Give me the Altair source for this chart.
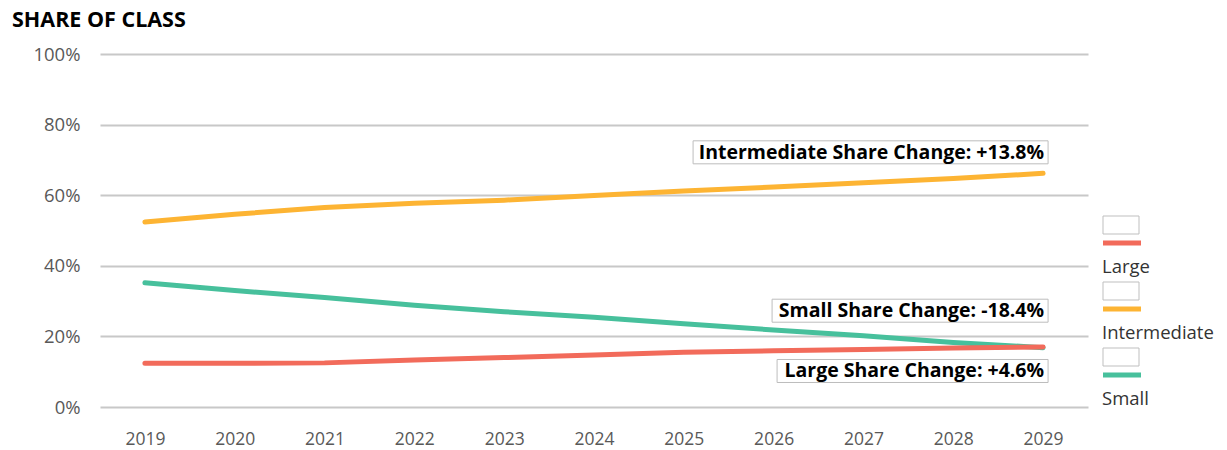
import altair as alt
import pandas as pd

# ---------------- data ----------------
years = list(range(2019, 2030))
series = ["Large", "Intermediate", "Small"]
colors = ["#F26B5B", "#FDB433", "#47C09C"]
large = [12.4, 12.4, 12.5, 13.3, 14.0, 14.7, 15.5, 15.9, 16.3, 16.7, 17.0]
intermediate = [52.4, 54.6, 56.5, 57.7, 58.6, 59.9, 61.2, 62.3, 63.5, 64.7, 66.2]
small = [35.2, 33.0, 31.0, 28.8, 27.0, 25.4, 23.6, 21.8, 20.2, 18.3, 16.8]
ann_series = ["Intermediate", "Small", "Large"]
ann_text = ["Intermediate Share Change: +13.8%", "Small Share Change: -18.4%", "Large Share Change: +4.6%"]
y_ticks = [0, 20, 40, 60, 80, 100]

# ---------------- styles ----------------
FONT = "Open Sans"
W, H = 988, 353
ann_style = {  # pixel offsets (vertical centre offset, box width)
    "Intermediate": (-21, 355),
    "Small": (-37, 276),
    "Large": (24, 271),
}

values = {"Large": large, "Intermediate": intermediate, "Small": small}
df = pd.DataFrame(
    [{"year": y, "series": s, "share": v} for s in series for y, v in zip(years, values[s])]
)
last = df[df["year"] == years[-1]].set_index("series")

x_scale = alt.Scale(domain=[years[0] - 0.5, years[-1] + 0.5], nice=False, zero=False)
y_scale = alt.Scale(domain=[0, 100], nice=False)
x_enc = alt.X(
    "year:Q", scale=x_scale,
    axis=alt.Axis(values=years, format="d", title=None, grid=False, domain=False, ticks=False,
                  labelFont=FONT, labelFontSize=17.5, labelColor="#595959", labelPadding=23),
)
y_enc = alt.Y(
    "share:Q", scale=y_scale,
    axis=alt.Axis(values=y_ticks, labelExpr="datum.value + '%'", title=None, domain=False,
                  ticks=False, gridColor="#C8C8C8", gridWidth=2, labelFont=FONT,
                  labelFontSize=18.5, labelColor="#595959", labelPadding=20),
)
color_enc = alt.Color("series:N", scale=alt.Scale(domain=series, range=colors), legend=None)

layers = []
for s in ["Small", "Intermediate", "Large"]:
    layers.append(
        alt.Chart(df[df["series"] == s]).mark_line(strokeWidth=5, strokeCap="round", strokeJoin="round")
        .encode(x=x_enc, y=y_enc, color=color_enc)
    )

for s, t in zip(ann_series, ann_text):
    dy, bw = ann_style[s]
    d = pd.DataFrame([{"year": years[-1], "share": last.loc[s, "share"], "label": t}])
    layers.append(
        alt.Chart(d).mark_rect(fill="white", stroke="#BDBDBD", strokeWidth=1,
                               xOffset=-(bw - 5), x2Offset=5, yOffset=dy - 11.5, y2Offset=dy + 11.5)
        .encode(x="year:Q", x2="year", y="share:Q", y2="share")
    )
    layers.append(
        alt.Chart(d).mark_text(align="right", baseline="middle", dx=1, dy=dy + 0.5, font=FONT,
                               fontSize=19.5, fontWeight="bold", color="#000000")
        .encode(x="year:Q", y="share:Q", text="label:N")
    )

main = alt.layer(*layers)

# ---------------- legend (right side) ----------------
leg = pd.DataFrame({"series": series})
leg_y = alt.Y("series:N", scale=alt.Scale(type="point", domain=series, range=[171, 303], padding=0), axis=None)
leg_box = alt.Chart(leg).mark_point(
    shape="M-1,-0.5H1V0.5H-1Z", size=36 * 36, filled=True, fill="white", stroke="#BFBFBF",
    strokeWidth=1, opacity=1,
).encode(x=alt.value(1021), y=leg_y)
leg_line = alt.Chart(leg).mark_rule(strokeWidth=5, yOffset=18).encode(
    x=alt.value(1003), x2=alt.value(1041), y=leg_y, color=color_enc
)
leg_text = alt.Chart(leg).mark_text(align="left", baseline="middle", dy=42, font=FONT,
                                    fontSize=18.5, color="#333333").encode(
    x=alt.value(1002), y=leg_y, text="series:N"
)

chart = (
    alt.layer(main, leg_box, leg_line, leg_text)
    .resolve_scale(y="independent")
    .properties(
        width=W, height=H,
        background="white",
        title=alt.TitleParams("SHARE OF CLASS", anchor="start", frame="group", font=FONT,
                              fontSize=21.5, fontWeight="bold", color="#000000", dx=-88,
                              offset=22, dy=8),
        autosize=alt.AutoSizeParams(type="none"),
        padding={"left": 100, "top": 54, "right": 139, "bottom": 43},
    )
    .configure_view(strokeWidth=0, stroke="transparent")
)

chart.save("out.html", embed_options={"renderer": "svg", "actions": False})
